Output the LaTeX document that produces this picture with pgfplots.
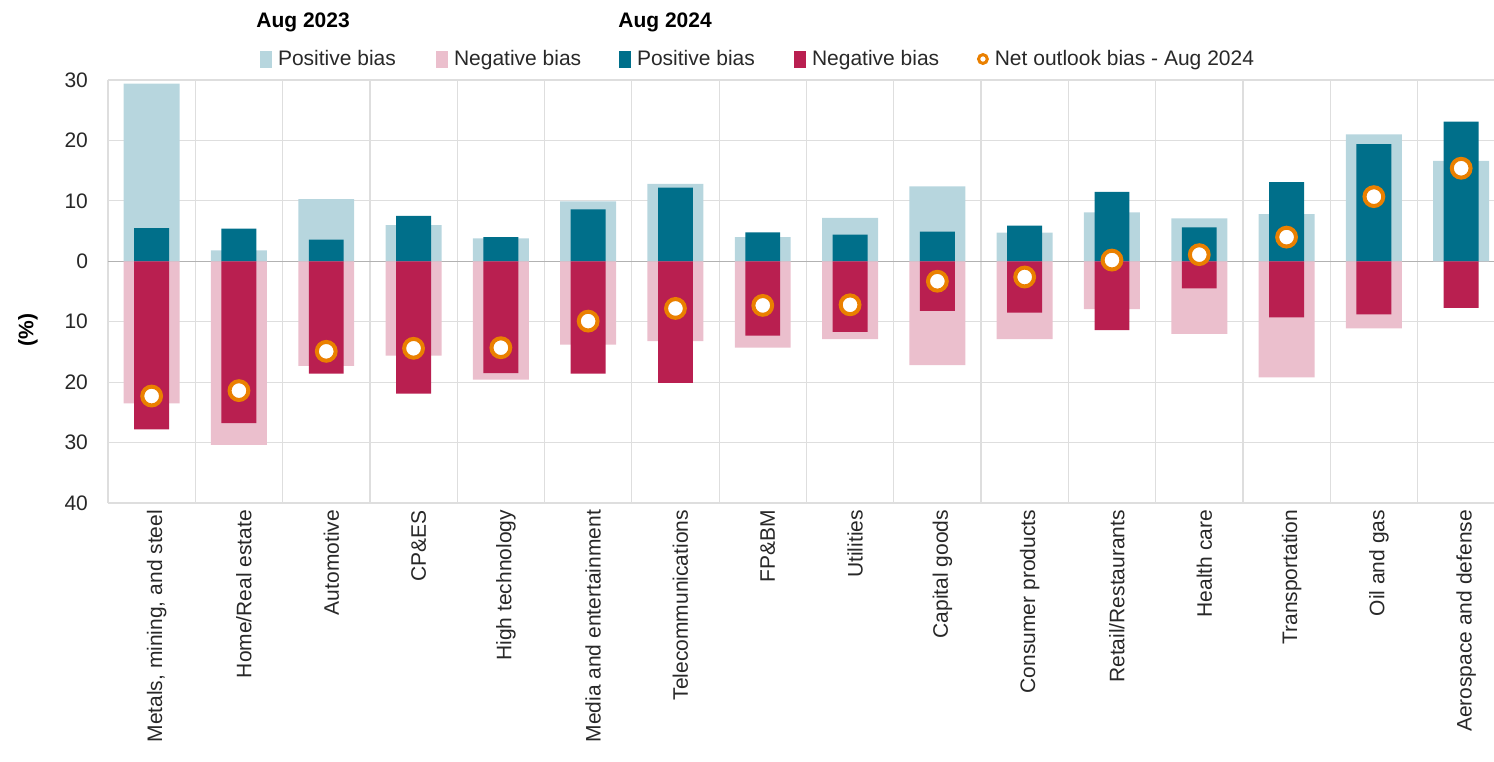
\documentclass[border=0pt]{standalone}
\usepackage{pgfplots}
\pgfplotsset{compat=1.18}
\usepackage{pgfplotstable}
\usepackage{fontspec}
\setmainfont{Liberation Sans}
\definecolor{lblue}{RGB}{183,214,222}
\definecolor{lpink}{RGB}{235,191,205}
\definecolor{tealb}{RGB}{0,111,138}
\definecolor{crim}{RGB}{185,31,80}
\definecolor{orng}{RGB}{234,128,0}
\definecolor{gridc}{RGB}{222,222,222}
\definecolor{txt}{RGB}{40,40,40}
\pgfplotstableread{
idx lpos lneg dpos dneg net
0 29.4 -23.5 5.5 -27.8 -22.3
1 1.8 -30.4 5.4 -26.8 -21.4
2 10.3 -17.3 3.6 -18.6 -14.9
3 6.0 -15.6 7.5 -21.9 -14.4
4 3.8 -19.6 4.0 -18.5 -14.3
5 9.9 -13.8 8.6 -18.6 -9.9
6 12.8 -13.2 12.2 -20.1 -7.8
7 4.0 -14.3 4.8 -12.3 -7.3
8 7.2 -12.9 4.4 -11.7 -7.2
9 12.4 -17.2 4.9 -8.2 -3.3
10 4.75 -12.9 5.9 -8.5 -2.6
11 8.1 -7.9 11.5 -11.4 0.2
12 7.1 -12.0 5.6 -4.5 1.1
13 7.8 -19.2 13.1 -9.3 4.0
14 21.0 -11.1 19.4 -8.8 10.7
15 16.6 0 23.1 -7.7 15.4
}\data
\begin{document}
\begin{tikzpicture}[font=\fontsize{10.5}{12.6}\selectfont]
\begin{axis}[name=ax, at={(0,0)}, anchor=south west,
  scale only axis, width=693pt, height=211.5pt,
  xmin=-0.5, xmax=15.376, ymin=-40, ymax=30,
  axis line style={draw=none},
  major tick length=0pt, minor tick length=0pt,
  xtick={0,...,15},
  xticklabels={{Metals, mining, and steel},{Home/Real estate},Automotive,CP\&ES,{High technology},{Media and entertainment},Telecommunications,FP\&BM,Utilities,{Capital goods},{Consumer products},Retail/Restaurants,{Health care},Transportation,{Oil and gas},{Aerospace and defense}},
  x tick label style={rotate=90, anchor=east, yshift=-2.5pt, text=txt},
  minor xtick={-0.5,0.5,...,14.5},
  xminorgrids, minor grid style={gridc, line width=0.6pt},
  ytick={-40,-30,...,30},
  yticklabels={40,30,20,10,0,10,20,30},
  y tick label style={xshift=-6.5pt, text=txt},
  ymajorgrids, major grid style={gridc, line width=0.6pt},
  extra y ticks={0}, extra y tick labels={},
  extra y tick style={grid=major, major grid style={draw=black!30, line width=0.6pt}},
  /pgf/number format/assume math mode=true,
  ylabel={(\%)},
  ylabel style={font=\fontsize{10.5}{12.6}\selectfont\bfseries, at={(axis description cs:-0.0577,0.409)}, anchor=center},
  legend style={at={(axis description cs:0.1097,1.0496)}, anchor=west, draw=none, fill=none,
    inner sep=0pt, outer sep=0pt, column sep=0pt, nodes={inner sep=0pt}, text=txt},
  legend columns=5,
  legend cell align=left,
]
\addplot[ybar, bar width=0.641, bar shift=0pt, fill=lblue, draw=none,
  legend image code/.code={\fill[lblue] (0pt,-4.25pt) rectangle (6pt,4.25pt);}]
  table[x=idx, y=lpos] {\data};
\addlegendentry{\makebox[82pt][l]{\hspace*{3pt}Positive bias}}
\addplot[ybar, bar width=0.641, bar shift=0pt, fill=lpink, draw=none,
  legend image code/.code={\fill[lpink] (0pt,-4.25pt) rectangle (6pt,4.25pt);}]
  table[x=idx, y=lneg] {\data};
\addlegendentry{\makebox[85.5pt][l]{\hspace*{3pt}Negative bias}}
\addplot[ybar, bar width=0.40, bar shift=0pt, fill=tealb, draw=none,
  legend image code/.code={\fill[tealb] (0pt,-4.25pt) rectangle (6pt,4.25pt);}]
  table[x=idx, y=dpos] {\data};
\addlegendentry{\makebox[81.5pt][l]{\hspace*{3pt}Positive bias}}
\addplot[ybar, bar width=0.40, bar shift=0pt, fill=crim, draw=none,
  legend image code/.code={\fill[crim] (0pt,-4.25pt) rectangle (6pt,4.25pt);}]
  table[x=idx, y=dneg] {\data};
\addlegendentry{\makebox[85.5pt][l]{\hspace*{3pt}Negative bias}}
\addplot[only marks, mark=*, mark size=4.7pt, mark options={fill=white, draw=orng, line width=2pt},
  legend image code/.code={\draw[orng, line width=1.5pt, fill=white] (2.9pt,0pt) circle (2.2pt);}]
  table[x=idx, y=net] {\data};
\addlegendentry{\makebox[140pt][l]{\hspace*{3pt}Net outlook bias - Aug 2024}}
\end{axis}
\node[anchor=west, inner sep=0pt, font=\fontsize{10.5}{12.6}\selectfont\bfseries] at ([xshift=74pt, yshift=29pt]ax.north west) {Aug 2023};
\node[anchor=west, inner sep=0pt, font=\fontsize{10.5}{12.6}\selectfont\bfseries] at ([xshift=255pt, yshift=29pt]ax.north west) {Aug 2024};
\pgfresetboundingbox
\path[use as bounding box] (-54pt,-129pt) rectangle (693pt,251.5pt);
\end{tikzpicture}
\end{document}
